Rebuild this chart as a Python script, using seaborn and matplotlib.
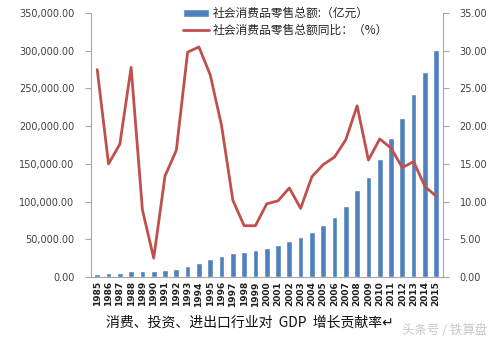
import numpy as np
import pandas as pd
import matplotlib
matplotlib.use("Agg")
import matplotlib.pyplot as plt
import seaborn as sns
from matplotlib.ticker import FuncFormatter

years = [str(y) for y in range(1985, 2016)]
sales = [4305, 4950, 5820, 7440, 8101, 8300, 9416, 10994, 14270, 18623,
         23614, 28360, 31253, 33378, 35648, 39106, 43055, 48136, 52516, 59501,
         68353, 79145, 93572, 114830, 132678, 156998, 183919, 210307, 242843,
         271896, 300931]
growth = [27.5, 15.0, 17.6, 27.8, 8.9, 2.5, 13.4, 16.8, 29.8, 30.5,
          26.8, 20.1, 10.2, 6.8, 6.8, 9.7, 10.1, 11.8, 9.1, 13.3,
          14.9, 15.9, 18.2, 22.7, 15.5, 18.3, 17.1, 14.5, 15.3, 12.0, 10.7]
bar_label = "社会消费品零售总额:（亿元）"
line_label = "社会消费品零售总额同比：（%）"
caption = "消费、投资、进出口行业对  GDP  增长贡献率"
watermark = "头条号 / 铁算盘"

sns.set_style("white")
plt.rcParams['font.family'] = ['Noto Sans CJK SC', 'DejaVu Sans']

df = pd.DataFrame({"year": years, "sales": sales, "growth": growth})

fig = plt.figure(figsize=(4.99, 3.40), dpi=100)
ax = fig.add_axes([91/499, 1-277/340, (443-91)/499, (277-13)/340])
sns.barplot(data=df, x="year", y="sales", color="#4F81BD", saturation=1,
            width=0.5, ax=ax, label=bar_label)
ax2 = ax.twinx()
sns.lineplot(x=np.arange(len(years)), y=df["growth"], color="#C0504D",
             linewidth=2, ax=ax2, label=line_label)
ax.set_xlim(-0.55, len(years) - 0.4)
ax.set_ylim(0, 350000)
ax2.set_ylim(0, 35)
ax.set_yticks(np.arange(0, 350001, 50000))
ax2.set_yticks(np.arange(0, 35.1, 5))
ax.yaxis.set_major_formatter(FuncFormatter(lambda v, p: f"{v:,.2f}"))
ax2.yaxis.set_major_formatter(FuncFormatter(lambda v, p: f"{v:.2f}"))
ax.set_xlabel("")
ax.set_ylabel("")
ax2.set_ylabel("")

grey = "#A6A6A6"
for a in (ax, ax2):
    for s in a.spines.values():
        s.set_color(grey)
        s.set_linewidth(0.8)
    a.spines['top'].set_visible(False)
ax.spines['right'].set_visible(False)
ax2.spines['left'].set_visible(False)
ax2.spines['bottom'].set_visible(False)
ax.tick_params(axis='y', which='both', left=True, length=4, color=grey,
               labelsize=7, labelcolor="#404040", pad=8)
ax2.tick_params(axis='y', which='both', right=True, length=4, color=grey,
                labelsize=7, labelcolor="#404040", pad=8)
ax.tick_params(axis='x', bottom=True, length=0, labelsize=6.5, pad=3)
for lab in ax.get_xticklabels():
    lab.set_rotation(90)
    lab.set_fontweight('bold')
    lab.set_family('DejaVu Sans')
    lab.set_color("#202020")
for lab in ax.get_yticklabels() + ax2.get_yticklabels():
    lab.set_family('DejaVu Sans')

h1, l1 = ax.get_legend_handles_labels()
h2, l2 = ax2.get_legend_handles_labels()
if ax.get_legend():
    ax.get_legend().remove()
if ax2.get_legend():
    ax2.get_legend().remove()
fig.legend(h1 + h2, l1 + l2, loc='upper left', bbox_to_anchor=(176/499, 1.0),
           frameon=False, fontsize=8.5, handlelength=2.2, handleheight=0.6,
           labelspacing=0.35, handletextpad=0.3, borderaxespad=0.2,
           prop={'family': ['Noto Sans CJK SC', 'DejaVu Sans'], 'size': 8.5})

fig.text(106/499, 1-323/340, caption + "↵", fontsize=10, va='center', ha='left',
         family=['Noto Sans CJK SC', 'DejaVu Sans'], color="#111111")
fig.text(402/499, 1-330/340, watermark, fontsize=9, va='center', ha='left',
         color="#C8C8C8", family=['Noto Sans CJK SC', 'DejaVu Sans'])

fig.savefig("out.png", dpi=100)
